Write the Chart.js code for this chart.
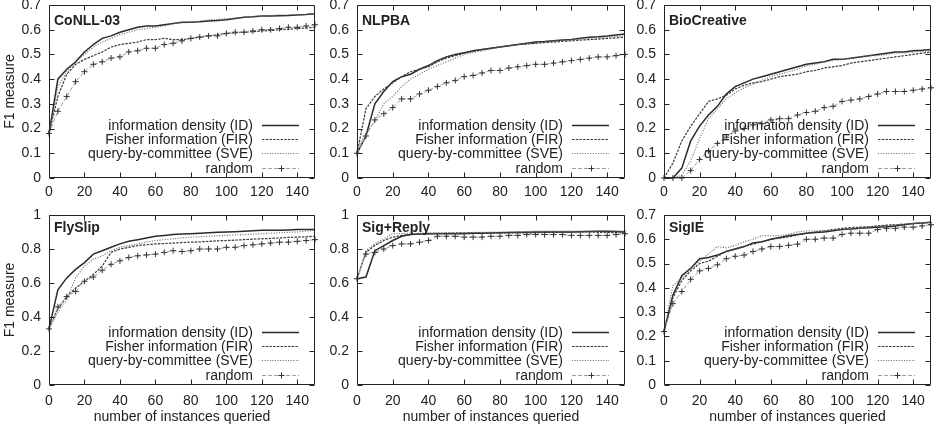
<!DOCTYPE html>
<html>
<head>
<meta charset="utf-8">
<script src="https://cdn.jsdelivr.net/npm/chart.js@4.4.0/dist/chart.umd.min.js"></script>
<style>
  html, body { margin: 0; padding: 0; background: #fff; }
  #wrap { position: relative; width: 938px; height: 426px; overflow: hidden; background: #fff; }
  canvas { position: absolute; }
</style>
</head>
<body>
<div id="wrap"></div>
<script>
// ---------- DATA ----------
const xs = [0,5,10,15,20,25,30,35,40,45,50,55,60,65,70,75,80,85,90,95,100,105,110,115,120,125,130,135,140,145,150];
const seriesLabels = ["information density (ID)", "Fisher information (FIR)", "query-by-committee (SVE)", "random"];
const panelTitles = ["CoNLL-03", "NLPBA", "BioCreative", "FlySlip", "Sig+Reply", "SigIE"];
const xTickLabels = [0,20,40,60,80,100,120,140];
const xAxisTitle = "number of instances queried";
const yAxisTitle = "F1 measure";

const conllID  = [0.18,0.40,0.44,0.47,0.51,0.54,0.565,0.575,0.59,0.60,0.61,0.615,0.615,0.62,0.625,0.63,0.63,0.632,0.635,0.637,0.64,0.645,0.65,0.652,0.655,0.655,0.657,0.658,0.66,0.662,0.665];
const conllFIR = [0.18,0.33,0.42,0.46,0.48,0.495,0.51,0.53,0.54,0.545,0.55,0.56,0.56,0.565,0.56,0.56,0.565,0.57,0.575,0.58,0.585,0.587,0.59,0.592,0.595,0.597,0.60,0.602,0.605,0.607,0.61];
const conllSVE = [0.18,0.37,0.43,0.47,0.50,0.53,0.55,0.565,0.58,0.59,0.60,0.605,0.61,0.615,0.625,0.628,0.63,0.635,0.64,0.642,0.645,0.647,0.65,0.652,0.655,0.657,0.66,0.66,0.66,0.662,0.665];
const conllRND = [0.18,0.27,0.33,0.39,0.43,0.46,0.47,0.485,0.49,0.51,0.515,0.525,0.525,0.54,0.545,0.555,0.565,0.57,0.575,0.575,0.585,0.59,0.59,0.595,0.60,0.60,0.605,0.61,0.61,0.615,0.62];

const nlpbaID  = [0.10,0.17,0.30,0.35,0.39,0.41,0.42,0.44,0.455,0.475,0.49,0.50,0.507,0.515,0.52,0.525,0.53,0.535,0.54,0.545,0.55,0.552,0.555,0.558,0.56,0.565,0.57,0.572,0.575,0.579,0.583];
const nlpbaFIR = [0.10,0.28,0.33,0.36,0.385,0.41,0.43,0.44,0.45,0.47,0.485,0.495,0.505,0.512,0.52,0.525,0.53,0.535,0.54,0.542,0.545,0.548,0.55,0.553,0.555,0.558,0.56,0.562,0.565,0.567,0.57];
const nlpbaSVE = [0.12,0.18,0.23,0.30,0.33,0.37,0.40,0.42,0.44,0.455,0.47,0.485,0.50,0.508,0.515,0.522,0.53,0.535,0.54,0.543,0.545,0.55,0.555,0.558,0.56,0.563,0.565,0.568,0.57,0.572,0.575];
const nlpbaRND = [0.10,0.17,0.235,0.26,0.285,0.32,0.32,0.34,0.355,0.37,0.385,0.395,0.41,0.415,0.425,0.435,0.435,0.445,0.45,0.455,0.46,0.46,0.465,0.47,0.475,0.48,0.485,0.49,0.49,0.495,0.50];

const bioID  = [0,0,0.04,0.15,0.21,0.255,0.29,0.34,0.37,0.385,0.40,0.41,0.42,0.43,0.44,0.45,0.46,0.465,0.47,0.48,0.48,0.485,0.49,0.495,0.50,0.505,0.51,0.51,0.515,0.517,0.52];
const bioFIR = [0,0.06,0.15,0.21,0.26,0.31,0.32,0.335,0.36,0.375,0.385,0.39,0.40,0.41,0.415,0.42,0.43,0.435,0.445,0.45,0.455,0.465,0.47,0.475,0.48,0.485,0.49,0.495,0.50,0.505,0.51];
const bioSVE = [0,0,0.01,0.07,0.16,0.24,0.28,0.32,0.345,0.365,0.38,0.395,0.41,0.42,0.43,0.44,0.455,0.46,0.47,0.475,0.48,0.485,0.49,0.495,0.495,0.50,0.505,0.507,0.51,0.512,0.515];
const bioRND = [0,0,0,0.03,0.075,0.11,0.14,0.165,0.19,0.20,0.215,0.22,0.235,0.24,0.24,0.255,0.265,0.27,0.285,0.29,0.31,0.315,0.32,0.33,0.34,0.35,0.35,0.35,0.355,0.36,0.365];

const flyID  = [0.33,0.56,0.63,0.68,0.72,0.77,0.79,0.81,0.83,0.845,0.855,0.865,0.875,0.88,0.885,0.888,0.89,0.892,0.895,0.898,0.90,0.902,0.905,0.907,0.91,0.91,0.91,0.912,0.915,0.915,0.915];
const flyFIR = [0.33,0.45,0.52,0.57,0.61,0.65,0.70,0.78,0.80,0.81,0.82,0.825,0.83,0.832,0.835,0.838,0.84,0.842,0.845,0.848,0.85,0.852,0.855,0.858,0.86,0.862,0.865,0.868,0.87,0.872,0.875];
const flySVE = [0.33,0.43,0.50,0.63,0.70,0.74,0.76,0.79,0.81,0.82,0.83,0.84,0.85,0.855,0.86,0.865,0.87,0.872,0.875,0.878,0.88,0.883,0.885,0.888,0.89,0.893,0.895,0.898,0.90,0.905,0.91];
const flyRND = [0.33,0.46,0.52,0.55,0.61,0.635,0.675,0.71,0.73,0.75,0.76,0.765,0.77,0.78,0.79,0.785,0.79,0.80,0.80,0.80,0.81,0.81,0.82,0.825,0.83,0.835,0.84,0.84,0.845,0.85,0.855];

const sigrID  = [0.625,0.635,0.79,0.82,0.85,0.875,0.885,0.888,0.89,0.89,0.89,0.89,0.89,0.892,0.893,0.894,0.895,0.897,0.898,0.899,0.90,0.90,0.90,0.90,0.90,0.902,0.903,0.904,0.905,0.903,0.90];
const sigrFIR = [0.625,0.78,0.82,0.85,0.87,0.88,0.885,0.888,0.89,0.892,0.893,0.894,0.895,0.895,0.895,0.895,0.895,0.895,0.895,0.895,0.895,0.897,0.898,0.899,0.90,0.90,0.90,0.898,0.897,0.896,0.895];
const sigrSVE = [0.625,0.79,0.83,0.86,0.89,0.89,0.89,0.892,0.895,0.895,0.895,0.895,0.895,0.897,0.898,0.899,0.90,0.90,0.90,0.902,0.905,0.905,0.905,0.905,0.905,0.905,0.905,0.905,0.905,0.905,0.905];
const sigrRND = [0.625,0.77,0.78,0.80,0.82,0.83,0.83,0.84,0.85,0.875,0.875,0.875,0.87,0.87,0.87,0.875,0.875,0.88,0.88,0.885,0.885,0.885,0.885,0.885,0.88,0.88,0.88,0.88,0.88,0.885,0.89];

const sigieID  = [0.22,0.37,0.45,0.48,0.52,0.525,0.535,0.55,0.56,0.57,0.585,0.59,0.60,0.607,0.615,0.62,0.625,0.628,0.63,0.635,0.64,0.642,0.645,0.648,0.65,0.652,0.655,0.66,0.665,0.667,0.67];
const sigieFIR = [0.22,0.36,0.43,0.47,0.50,0.51,0.53,0.55,0.56,0.57,0.58,0.59,0.60,0.605,0.61,0.618,0.625,0.63,0.635,0.64,0.645,0.648,0.65,0.652,0.655,0.658,0.66,0.662,0.665,0.667,0.67];
const sigieSVE = [0.22,0.41,0.44,0.48,0.51,0.54,0.57,0.565,0.575,0.59,0.60,0.615,0.615,0.615,0.62,0.63,0.635,0.635,0.635,0.638,0.64,0.643,0.645,0.65,0.655,0.657,0.66,0.662,0.665,0.667,0.67];
const sigieRND = [0.22,0.335,0.385,0.435,0.47,0.48,0.495,0.52,0.53,0.535,0.55,0.56,0.57,0.57,0.575,0.58,0.60,0.60,0.605,0.605,0.62,0.625,0.625,0.625,0.64,0.645,0.645,0.65,0.65,0.655,0.66];

const yMaxes = [0.7, 0.7, 0.7, 1, 1, 0.7];
const yStepSizes = [0.1, 0.1, 0.1, 0.2, 0.2, 0.1];
const panelSeries = [
  [conllID, conllFIR, conllSVE, conllRND],
  [nlpbaID, nlpbaFIR, nlpbaSVE, nlpbaRND],
  [bioID, bioFIR, bioSVE, bioRND],
  [flyID, flyFIR, flySVE, flyRND],
  [sigrID, sigrFIR, sigrSVE, sigrRND],
  [sigieID, sigieFIR, sigieSVE, sigieRND]
];

// ---------- LAYOUT / STYLE ----------
const FONT = '"Liberation Sans", Arial, Helvetica, sans-serif';
Chart.defaults.font.family = FONT;
Chart.defaults.font.size = 14;
Chart.defaults.color = '#222';

const cols = [
  { left: 0,   width: 320, plotLeft: 49, plotRight: 316 },
  { left: 320, width: 310, plotLeft: 37, plotRight: 306 },
  { left: 630, width: 308, plotLeft: 34, plotRight: 301 }
];
const rows = [
  { top: 0,   height: 200, plotTop: 5,  plotBottom: 178, titleBase: 20,   xPad: 5.5 },
  { top: 200, height: 226, plotTop: 15, plotBottom: 185, titleBase: 16.5, xPad: 7.5 }
];

const seriesStyles = [
  { borderColor: '#2a2a2a', borderWidth: 1.5, borderDash: [], pointRadius: 0 },
  { borderColor: '#3a3a3a', borderWidth: 1.2, borderDash: [2.5, 1.2], pointRadius: 0 },
  { borderColor: '#6a6a6a', borderWidth: 1.2, borderDash: [1, 1.6], pointRadius: 0 },
  { borderColor: '#a0a0a0', borderWidth: 1, borderDash: [4, 2], pointRadius: 3, pointStyle: 'cross',
    pointBorderColor: '#333', pointBorderWidth: 1 }
];

const framePlugin = {
  id: 'frame',
  afterDraw(chart, args, opts) {
    const ctx = chart.ctx;
    const a = chart.chartArea;
    const xS = chart.scales.x, yS = chart.scales.y;
    ctx.save();
    ctx.setLineDash([]);
    ctx.strokeStyle = '#222';
    ctx.lineWidth = 1;
    const L = Math.round(a.left) + 0.5, R = Math.round(a.right) - 0.5;
    const T = Math.round(a.top) + 0.5, B = Math.round(a.bottom) - 0.5;
    ctx.beginPath();
    ctx.rect(L, T, R - L, B - T);
    const tl = 5;
    xS.ticks.forEach(t => {
      const px = Math.round(xS.getPixelForValue(t.value)) + 0.5;
      ctx.moveTo(px, B); ctx.lineTo(px, B - tl);
      ctx.moveTo(px, T); ctx.lineTo(px, T + tl);
    });
    yS.ticks.forEach(t => {
      const py = Math.round(yS.getPixelForValue(t.value)) + 0.5;
      ctx.moveTo(L, py); ctx.lineTo(L + tl, py);
      ctx.moveTo(R, py); ctx.lineTo(R - tl, py);
    });
    ctx.stroke();

    // panel title
    ctx.font = 'bold 14px ' + FONT;
    ctx.fillStyle = '#222';
    ctx.textAlign = 'left';
    ctx.textBaseline = 'alphabetic';
    ctx.fillText(opts.title, a.left + 5, a.top + opts.titleBase);

    // legend (gnuplot style, bottom right, inside plot)
    const ds = chart.data.datasets;
    const n = ds.length;
    ctx.font = '14px ' + FONT;
    ctx.textAlign = 'right';
    ctx.textBaseline = 'middle';
    ds.forEach((d, i) => {
      const yy = Math.round(a.bottom - 10.5 - 14.2 * (n - 1 - i)) + 0.5;
      ctx.fillStyle = '#222';
      ctx.fillText(d.label, a.right - 62, yy + 1);
      ctx.strokeStyle = d.borderColor;
      ctx.lineWidth = d.borderWidth;
      ctx.setLineDash(d.borderDash || []);
      ctx.beginPath();
      ctx.moveTo(a.right - 53, yy);
      ctx.lineTo(a.right - 16, yy);
      ctx.stroke();
      if (d.pointRadius > 0) {
        const cx = Math.round(a.right - 34.5) + 0.5, r = d.pointRadius;
        ctx.setLineDash([]);
        ctx.strokeStyle = d.pointBorderColor;
        ctx.lineWidth = d.pointBorderWidth;
        ctx.beginPath();
        ctx.moveTo(cx - r, yy); ctx.lineTo(cx + r, yy);
        ctx.moveTo(cx, yy - r); ctx.lineTo(cx, yy + r);
        ctx.stroke();
      }
    });
    ctx.restore();
  }
};

const wrap = document.getElementById('wrap');

for (let p = 0; p < 6; p++) {
  const col = cols[p % 3], row = rows[Math.floor(p / 3)];
  const isBottom = p >= 3, isLeft = (p % 3) === 0;
  const cv = document.createElement('canvas');
  cv.width = col.width; cv.height = row.height;
  cv.style.left = col.left + 'px'; cv.style.top = row.top + 'px';
  cv.style.width = col.width + 'px'; cv.style.height = row.height + 'px';
  wrap.appendChild(cv);

  const datasets = panelSeries[p].map((vals, i) => Object.assign({
    label: seriesLabels[i],
    data: vals.map((v, k) => ({ x: xs[k], y: v })),
    tension: 0,
    fill: false,
    clip: false,
    order: 4 - i
  }, seriesStyles[i]));

  new Chart(cv, {
    type: 'line',
    data: { datasets },
    options: {
      responsive: false,
      animation: false,
      devicePixelRatio: 1,
      layout: { padding: { top: row.plotTop, right: col.width - col.plotRight, left: 0, bottom: 0 } },
      plugins: {
        legend: { display: false },
        tooltip: { enabled: false },
        frame: { title: panelTitles[p], titleBase: row.titleBase }
      },
      scales: {
        x: {
          type: 'linear', min: 0, max: 150,
          grid: { display: false, drawTicks: false }, border: { display: false },
          afterBuildTicks(s) { s.ticks = xTickLabels.map(v => ({ value: v })); },
          ticks: { stepSize: 20, includeBounds: false, padding: row.xPad, maxRotation: 0, autoSkip: false, color: '#222' },
          title: { display: isBottom, text: xAxisTitle, color: '#222', padding: { top: 0, bottom: 0 } },
          afterFit(s) { s.height = row.height - row.plotBottom; s.paddingLeft = 0; s.paddingRight = 0; }
        },
        y: {
          type: 'linear', min: 0, max: yMaxes[p],
          grid: { display: false, drawTicks: false }, border: { display: false },
          ticks: { stepSize: yStepSizes[p], padding: 8, color: '#222',
                   callback: v => String(Number(v.toFixed(2))) },
          title: { display: isLeft, text: yAxisTitle, color: '#222', padding: { top: 2, bottom: 0 } },
          afterFit(s) { s.width = col.plotLeft; s.paddingTop = 0; s.paddingBottom = 0; }
        }
      }
    },
    plugins: [framePlugin]
  });
}
</script>
</body>
</html>
